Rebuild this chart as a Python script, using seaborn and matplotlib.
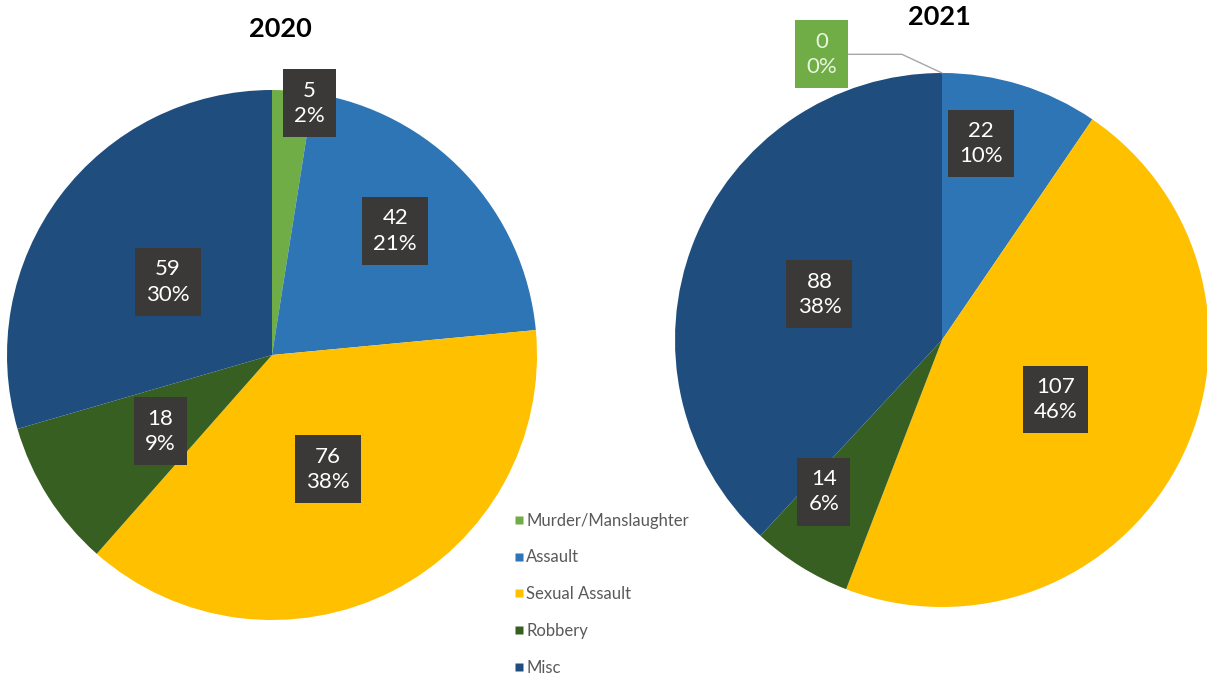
import numpy as np
import matplotlib
matplotlib.use("Agg")
import matplotlib.pyplot as plt
import seaborn as sns

sns.set_theme(style="white")
plt.rcParams['font.family'] = ['Lato', 'DejaVu Sans']

categories = ["Murder/Manslaughter", "Assault", "Sexual Assault", "Robbery", "Misc"]
values_2020 = [5, 42, 76, 18, 59]
values_2021 = [0, 22, 107, 14, 88]
years = ["2020", "2021"]

colors = ["#70AD47", "#2E75B6", "#FFC000", "#375F22", "#1F4E7E"]
label_box = "#3B3838"

W, H = 1207, 675
fig = plt.figure(figsize=(W / 100, H / 100), dpi=100)

# axes placed as pixel squares: (left, top, size)
boxes = [(7, 90, 530), (675, 73, 534)]
# radial distance (fraction of radius) of each data label
label_r = [[0.96, 0.66, 0.48, 0.51, 0.48], [1.15, 0.75, 0.48, 0.72, 0.49]]
label_da = [[4, -2, 1, -2, -2], [0, -6, 0, 6, -1]]
title_xy = [(0.03, 1.23), (-0.01, 1.21)]

for i, vals in enumerate([values_2020, values_2021]):
    l, t, s = boxes[i]
    ax = fig.add_axes([l / W, (H - t - s) / H, s / W, s / H])
    wedges, _ = ax.pie(vals, colors=colors, startangle=90, counterclock=False,
                       radius=1.0, wedgeprops=dict(linewidth=0))
    ax.set_xlim(-1, 1)
    ax.set_ylim(-1, 1)
    ax.set_aspect('auto')
    ax.axis('off')
    total = sum(vals)
    cum = 0
    for j, v in enumerate(vals):
        mid = (cum + v / 2) / total * 360 + label_da[i][j]
        cum += v
        pct = round(v / total * 100)
        txt = f"{v}\n{pct}%"
        if v == 0:
            x, y = -0.45, 1.07
            ax.annotate(txt, xy=(0, 1.0), xytext=(x, y), ha='center', va='center',
                        fontsize=16, color='#E8F5E0', linespacing=1.35,
                        bbox=dict(boxstyle='square,pad=0.5', fc=colors[0], ec='none'),
                        arrowprops=dict(arrowstyle='-', color='#A6A6A6', lw=1,
                                        connectionstyle='angle,angleA=0,angleB=-25,rad=0',
                                        shrinkA=0, shrinkB=0),
                        annotation_clip=False)
            continue
        a = np.deg2rad(mid)
        r = label_r[i][j]
        x, y = r * np.sin(a), r * np.cos(a)
        ax.text(x, y, txt, ha='center', va='center', fontsize=16, color='white',
                linespacing=1.35,
                bbox=dict(boxstyle='square,pad=0.5', fc=label_box, ec='none'))
    ax.text(title_xy[i][0], title_xy[i][1], years[i], ha='center', va='center',
            fontsize=19.5, fontweight='bold', color='black', clip_on=False)

handles = [plt.Line2D([], [], marker='s', linestyle='none', markersize=6,
                      markerfacecolor=c, markeredgecolor='none') for c in colors]
fig.legend(handles, categories, loc='upper left', bbox_to_anchor=(507 / W, 1 - 506 / H),
           frameon=False, fontsize=12, labelcolor='#595959', handlelength=0.6,
           handletextpad=0.15, labelspacing=1.25, borderaxespad=0)

fig.savefig("out.png", dpi=100)
